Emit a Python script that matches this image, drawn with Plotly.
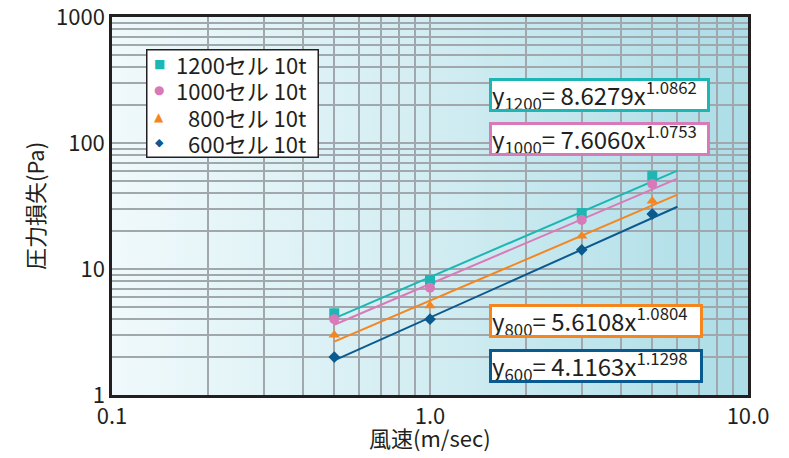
import base64
import plotly.graph_objects as go

# ---- data ----
wind_speed = [0.5, 1.0, 3.0, 5.0]
p_1200 = [4.45, 8.2, 27.8, 55.0]
p_1000 = [4.0, 7.1, 24.5, 47.3]
p_800 = [3.0, 5.1, 18.3, 34.7]
p_600 = [2.0, 4.0, 14.2, 27.3]

trend_x = [0.5, 6.0]
trend_1200 = [4.06, 60.4]
trend_1000 = [3.61, 52.2]
trend_800 = [2.65, 38.9]
trend_600 = [1.88, 31.2]

series_names = ["1200セル 10t", "1000セル 10t", "800セル 10t", "600セル 10t"]
equations = [
    "y<sub>1200</sub>= 8.6279x<sup>1.0862</sup>",
    "y<sub>1000</sub>= 7.6060x<sup>1.0753</sup>",
    "y<sub>800</sub>= 5.6108x<sup>1.0804</sup>",
    "y<sub>600</sub>= 4.1163x<sup>1.1298</sup>",
]
x_tick_vals = [0.1, 1.0, 10.0]
x_tick_text = ["0.1", "1.0", "10.0"]
y_tick_vals = [1, 10, 100, 1000]
y_tick_text = ["1", "10", "100", "1000"]
x_title = "風速(m/sec)"
y_title = "圧力損失(Pa)"

colors = ["#1db6b4", "#d97ab8", "#f5861f", "#0b5a8f"]
symbols = ["square", "circle", "triangle-up", "diamond"]
legend_glyphs = ["■", "●", "▲", "◆"]
msizes = [10, 10, 10, 9]

FONT = "Noto Sans CJK JP"
TXT = "#231f20"

# page offset of the figure (body margin) is 8px; plot area spans
# x 112..748, y 17..395 in the page
W, H = 781, 450
ML, MT, MR, MB = 104, 9, 41, 63
PW, PH = W - ML - MR, H - MT - MB


def px(xpage):
    return (xpage - 8 - ML) / PW


def py(ypage):
    return 1 - (ypage - 8 - MT) / PH


fig = go.Figure()

points = [p_1200, p_1000, p_800, p_600]
trends = [trend_1200, trend_1000, trend_800, trend_600]
for tr, c in zip(trends, colors):
    fig.add_trace(go.Scatter(x=trend_x, y=tr, mode="lines",
                             line=dict(color=c, width=2), showlegend=False,
                             hoverinfo="skip"))
for name, pts, c, s, ms in zip(series_names, points, colors, symbols, msizes):
    fig.add_trace(go.Scatter(x=wind_speed, y=pts, mode="markers", name=name,
                             marker=dict(color=c, symbol=s, size=ms),
                             showlegend=False))

# gradient background image
svg = ('<svg xmlns="http://www.w3.org/2000/svg" width="100" height="100" preserveAspectRatio="none">'
       '<defs><linearGradient id="g" x1="0" y1="0" x2="1" y2="0">'
       '<stop offset="0" stop-color="#f0f9fb"/>'
       '<stop offset="0.5" stop-color="#d2edf2"/>'
       '<stop offset="1" stop-color="#acdde7"/>'
       '</linearGradient></defs>'
       '<rect x="0" y="0" width="100" height="100" fill="url(#g)"/></svg>')
src = "data:image/svg+xml;base64," + base64.b64encode(svg.encode()).decode()
fig.add_layout_image(dict(source=src, xref="paper", yref="paper", x=0, y=1,
                          sizex=1, sizey=1, sizing="stretch", layer="below",
                          xanchor="left", yanchor="top"))

# manual legend box
fig.add_annotation(text=" ", xref="paper", yref="paper",
                   x=px(146), y=py(49), xanchor="left", yanchor="top",
                   showarrow=False, width=170, height=106, bgcolor="white",
                   bordercolor=TXT, borderwidth=1.5, borderpad=0)
leg_rows = [64, 90, 117, 143]
for name, g, c, row in zip(series_names, legend_glyphs, colors, leg_rows):
    fig.add_annotation(text=name, xref="paper", yref="paper", x=px(308), y=py(row),
                       xanchor="right", yanchor="middle", showarrow=False,
                       font=dict(family=FONT, size=22, color=TXT))
    fig.add_annotation(text=g, xref="paper", yref="paper", x=px(159), y=py(row),
                       xanchor="center", yanchor="middle", showarrow=False,
                       font=dict(family="DejaVu Sans", size=12 if g != "◆" else 11, color=c))

# equation boxes
eq_boxes = [(489, 95, 215), (489, 139, 215), (489, 321, 208), (489, 366, 208)]
for eq, c, (bx, by, bw) in zip(equations, colors, eq_boxes):
    fig.add_annotation(text=eq, xref="paper", yref="paper", x=px(bx), y=py(by),
                       xanchor="left", yanchor="middle", showarrow=False,
                       width=bw, height=28, align="left",
                       font=dict(family=FONT, size=24, color=TXT),
                       bgcolor="white", bordercolor=c, borderwidth=3, borderpad=0)

# axis titles
fig.add_annotation(text=x_title, xref="paper", yref="paper", x=px(430), y=py(437),
                   xanchor="center", yanchor="middle", showarrow=False,
                   font=dict(family=FONT, size=22, color=TXT))
fig.add_annotation(text=y_title, xref="paper", yref="paper", x=px(34), y=py(206),
                   xanchor="center", yanchor="middle", showarrow=False, textangle=-90,
                   font=dict(family=FONT, size=22, color=TXT))

grid = "#a0a8ad"
fig.update_xaxes(type="log", range=[-1, 1], tickvals=x_tick_vals, ticktext=x_tick_text,
                 showgrid=True, gridcolor=grid, gridwidth=1.5,
                 minor=dict(showgrid=True, gridcolor=grid, gridwidth=1.5,
                            tickvals=[0.2, 0.3, 0.4, 0.5, 0.6, 0.7, 0.8, 0.9,
                                      2, 3, 4, 5, 6, 7, 8, 9]),
                 showline=True, linecolor=TXT, linewidth=2.5, mirror=True,
                 ticks="", tickfont=dict(family=FONT, size=22, color=TXT),
                 ticklabeloverflow="allow",
                 automargin=False, zeroline=False)
fig.update_yaxes(type="log", range=[0, 3], tickvals=y_tick_vals, ticktext=y_tick_text,
                 showgrid=True, gridcolor=grid, gridwidth=1.5,
                 minor=dict(showgrid=True, gridcolor=grid, gridwidth=1.5,
                            tickvals=[2, 3, 4, 5, 6, 7, 8, 9,
                                      20, 30, 40, 50, 60, 70, 80, 90,
                                      200, 300, 400, 500, 600, 700, 800, 900]),
                 showline=True, linecolor=TXT, linewidth=2.5, mirror=True,
                 ticks="", tickfont=dict(family=FONT, size=22, color=TXT),
                 ticklabeloverflow="allow",
                 automargin=False, zeroline=False)

fig.update_layout(
    width=W, height=H,
    margin=dict(l=ML, r=MR, t=MT, b=MB),
    paper_bgcolor="white",
    plot_bgcolor="rgba(0,0,0,0)",
    font=dict(family=FONT, color=TXT),
    showlegend=False,
)

fig.write_html("out.html")
